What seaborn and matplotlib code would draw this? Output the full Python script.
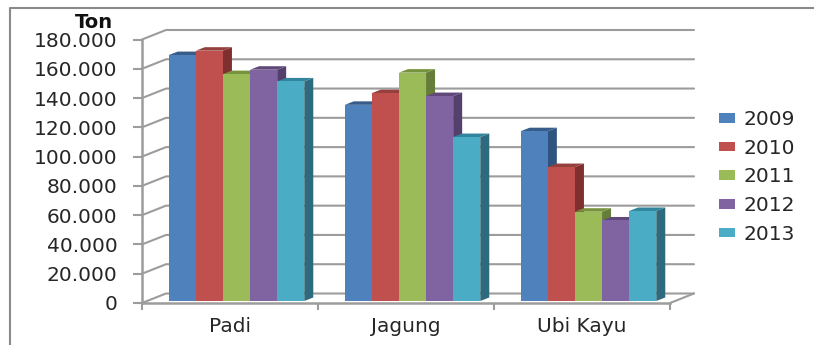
import matplotlib
matplotlib.use("Agg")
import matplotlib.pyplot as plt
from matplotlib.lines import Line2D
from matplotlib.patches import Polygon
import pandas as pd
import seaborn as sns

crops = ["Padi", "Jagung", "Ubi Kayu"]
years = ["2009", "2010", "2011", "2012", "2013"]
prod_2009 = [168000, 134000, 116000]
prod_2010 = [171000, 142000, 91500]
prod_2011 = [155000, 156000, 61000]
prod_2012 = [158000, 140000, 55000]
prod_2013 = [150000, 112000, 61500]
y_ticks = [0, 20000, 40000, 60000, 80000, 100000, 120000, 140000, 160000, 180000]

front_colors = ["#4F81BD", "#C0504D", "#9BBB59", "#8064A2", "#4BACC6"]
top_colors = ["#385D8A", "#95403D", "#77933C", "#60497A", "#31859C"]
side_colors = ["#2F5480", "#7F302E", "#667D3A", "#553F6D", "#2E6A7D"]
GRID = "#9C9C9C"
TEXT = "#262626"

W, H = 814, 345
sns.set_theme(style="white")
plt.rcParams["font.family"] = ["DejaVu Sans"]

df = pd.DataFrame(
    {"crop": crops, "2009": prod_2009, "2010": prod_2010, "2011": prod_2011,
     "2012": prod_2012, "2013": prod_2013}
).melt(id_vars="crop", var_name="year", value_name="ton")

fig = plt.figure(figsize=(W / 100, H / 100), dpi=100, facecolor="white")


def axes_px(left, right, top, bottom):
    return fig.add_axes([left / W, 1 - bottom / H, (right - left) / W, (bottom - top) / H])


# Front plane of the pseudo-3D box: axis lines, ticks and wall grid
ax = axes_px(142, 670, 39.5, 303)
ax.set_xlim(-0.5, 2.5)
ax.set_ylim(0, 180000)
wall_dx = 24 / 176
wall_dy = 9.5 / 263.5 * 180000
for v in y_ticks:
    ax.plot([-0.5, -0.5 + wall_dx, 2.5 + wall_dx], [v, v + wall_dy, v + wall_dy],
            color=GRID, lw=1.5, clip_on=False, zorder=1, solid_joinstyle="miter")
ax.plot([2.5, 2.5 + wall_dx], [0, wall_dy], color=GRID, lw=1.5, clip_on=False, zorder=1)

for name in ("top", "right"):
    ax.spines[name].set_visible(False)
for name in ("left", "bottom"):
    ax.spines[name].set_color(GRID)
    ax.spines[name].set_linewidth(1.8)
ax.set_yticks(y_ticks)
ax.set_yticklabels([f"{v:,}".replace(",", ".") for v in y_ticks], fontsize=14.5, color=TEXT)
ax.set_xticks([0, 1, 2])
ax.set_xticklabels(crops, fontsize=14.5, color=TEXT)
ax.set_xticks([-0.5, 0.5, 1.5, 2.5], minor=True)
ax.tick_params(axis="y", length=6.5, width=1.5, color=GRID, pad=11, left=True)
ax.tick_params(axis="x", which="major", length=0, pad=10)
ax.tick_params(axis="x", which="minor", length=5, width=1.5, color=GRID, bottom=True)
ax.set_xlabel("")
ax.set_ylabel("")
ax.patch.set_visible(False)
fig.text(113 / W, 1 - 22 / H, "Ton", ha="right", va="center", fontsize=14,
         fontweight="bold", color="#111111")

# Bars stand slightly inside the box floor
ax_bar = axes_px(148.5, 676.5, 37.5, 301)
sns.barplot(data=df, x="crop", y="ton", hue="year", palette=front_colors, order=crops,
            hue_order=years, width=0.77, gap=0, saturation=1, linewidth=0, ax=ax_bar,
            errorbar=None, legend=False)
ax_bar.set_xlim(-0.5, 2.5)
ax_bar.set_ylim(0, 180000)
ax_bar.axis("off")

depth_x = 9 / 176
depth_y = 3.5 / 263.5 * 180000
for i, container in enumerate(ax_bar.containers):
    for j, bar in enumerate(container):
        x0, x1 = bar.get_x(), bar.get_x() + bar.get_width()
        h = bar.get_height()
        base_z = 2 + 3 * (i + 5 * j)
        bar.set_zorder(base_z + 2)
        ax_bar.add_patch(Polygon(
            [(x1, 0), (x1 + depth_x, depth_y), (x1 + depth_x, h + depth_y), (x1, h)],
            facecolor=side_colors[i], edgecolor="none", clip_on=False, zorder=base_z))
        ax_bar.add_patch(Polygon(
            [(x0, h), (x0 + depth_x, h + depth_y), (x1 + depth_x, h + depth_y), (x1, h)],
            facecolor=top_colors[i], edgecolor="none", clip_on=False, zorder=base_z + 1))

# Legend built from the bar colours
handles = [plt.Rectangle((0, 0), 1, 1, facecolor=c, edgecolor="none") for c in front_colors]
fig.legend(handles, years, loc="center left", bbox_to_anchor=(719 / W, 1 - 177 / H),
           frameon=False, fontsize=14.5, labelcolor=TEXT, handlelength=0.8, handleheight=0.36,
           handletextpad=0.4, labelspacing=0.48, borderpad=0, borderaxespad=0)

# Outer frame lines on the top and left edges
fig.add_artist(Line2D([10 / W, 10 / W, 1], [0, 1 - 8 / H, 1 - 8 / H], color="#8A8A8A", lw=1.5))

fig.savefig("out.png", dpi=100)
